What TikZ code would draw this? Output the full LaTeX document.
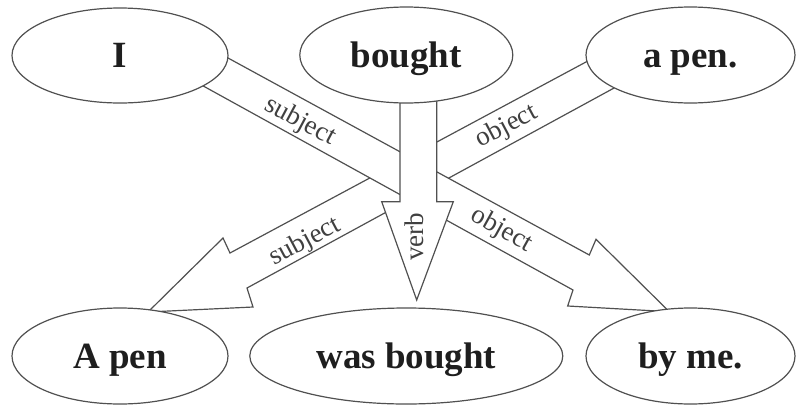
\documentclass[tikz,border=0pt]{standalone}
\usepackage{fontspec}
\setmainfont{Liberation Serif}
\usetikzlibrary{shapes.geometric}
\pgfdeclarelayer{bg}
\pgfsetlayers{bg,main}
\definecolor{edge}{HTML}{505050}
\definecolor{ink}{HTML}{1E1E1E}
\tikzset{
  wordbox/.style={ellipse, draw=edge, line width=1.2pt, fill=white, inner sep=0pt,
    text=ink, font=\fontsize{37}{40}\selectfont\bfseries, text height=24pt, text depth=0pt},
  bandlbl/.style={text=ink!85, font=\fontsize{27}{30}\selectfont, inner sep=0pt},
  blockarrow/.style={draw=edge, fill=white, line width=1.2pt, line join=miter}
}
\begin{document}
\begin{tikzpicture}[x=1pt,y=-1pt]
\useasboundingbox (0,0) rectangle (796,405);
% word ellipses
\node[wordbox, minimum width=216pt, minimum height=95pt] (I) at (120,55.5) {I};
\node[wordbox, minimum width=213pt, minimum height=96pt] (bought) at (406.3,55) {bought};
\node[wordbox, minimum width=209pt, minimum height=96pt] (apen) at (690.5,55) {a pen.};
\node[wordbox, minimum width=216pt, minimum height=96pt] (Apen) at (120,356) {A pen};
\node[wordbox, minimum width=313pt, minimum height=96pt] (was) at (406.3,356) {was bought};
\node[wordbox, minimum width=209pt, minimum height=96pt] (byme) at (690.5,356) {by me.};
% block arrows behind the ellipses
\begin{pgfonlayer}{bg}
  \coordinate (tipA) at (669.3,311.7);
  \coordinate (tipB) at (148,312);
  \coordinate (tipC) at (416.7,300);
  % a pen. -> A pen (object -> subject)
  \draw[blockarrow] (610,49.1) -- (230,253) -- (223,238) -- (tipB) -- (253,307) -- (247,288) -- (635,76.6) -- cycle;
  % I -> by me. (subject -> object)
  \draw[blockarrow] (195,40) -- (589.3,255) -- (596,239.3) -- (tipA) -- (567.7,306) -- (573,290) -- (175,70.4) -- cycle;
  % bought -> was bought (verb)
  \draw[blockarrow] (400,80) -- (400,201.7) -- (381.7,201.7) -- (tipC) -- (453.3,201.7) -- (436.7,201.7) -- (436.7,80) -- cycle;
\end{pgfonlayer}
% labels
\node[bandlbl, rotate=-28] (l1) at (300,121.7) {subject};
\node[bandlbl, rotate=28] (l2) at (506.7,126.7) {object};
\node[bandlbl, rotate=28] (l3) at (305,241.7) {subject};
\node[bandlbl, rotate=-29] (l4) at (501.7,230) {object};
\node[bandlbl, rotate=90] (l5) at (414.3,236.7) {verb};
\end{tikzpicture}
\end{document}
